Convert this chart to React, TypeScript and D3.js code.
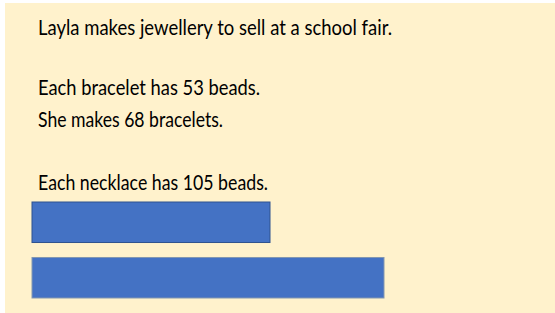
import React from 'react';
import * as d3 from 'd3';

// text lines of the problem, with the measured width of each line
const lines = [
  'Layla makes jewellery to sell at a school fair.',
  'Each bracelet has 53 beads.',
  'She makes 68 bracelets.',
  'Each necklace has 105 beads.'
];
const lineWidths = [354, 222, 185, 230];
const lineBaselines = [35, 95, 127, 190];

// bar model: two bars, lengths (px units)
const barNames = ['bar1', 'bar2'];
const barLengths = [238, 352];

const W = 555;
const H = 313;

export default function App() {
  const x = d3.scaleLinear().domain([0, 352]).range([32, 384]);
  const y = d3.scaleBand<string>().domain(barNames).range([202, 298]).paddingInner(0.27).paddingOuter(0);

  return (
    <div style={{ position: 'absolute', left: 0, top: 0, background: '#fff' }}>
      <svg width={W} height={H} style={{ display: 'block' }}>
        <rect x={5} y={3} width={W - 5} height={H - 3} fill="#FFF2CC" />
        {lines.map((t, i) => (
          <text
            key={i}
            x={38}
            y={lineBaselines[i]}
            fontFamily="Lato, 'Open Sans', sans-serif"
            fontSize={22}
            fill="#000"
            textLength={lineWidths[i]}
            lengthAdjust="spacingAndGlyphs"
          >
            {t}
          </text>
        ))}
        {barNames.map((n, i) => (
          <rect
            key={n}
            x={x(0)}
            y={y(n)}
            width={x(barLengths[i]) - x(0)}
            height={y.bandwidth()}
            fill="#4472C4"
            stroke={i === 0 ? '#2F528F' : '#8497B0'}
            strokeWidth={1}
          />
        ))}
      </svg>
    </div>
  );
}
